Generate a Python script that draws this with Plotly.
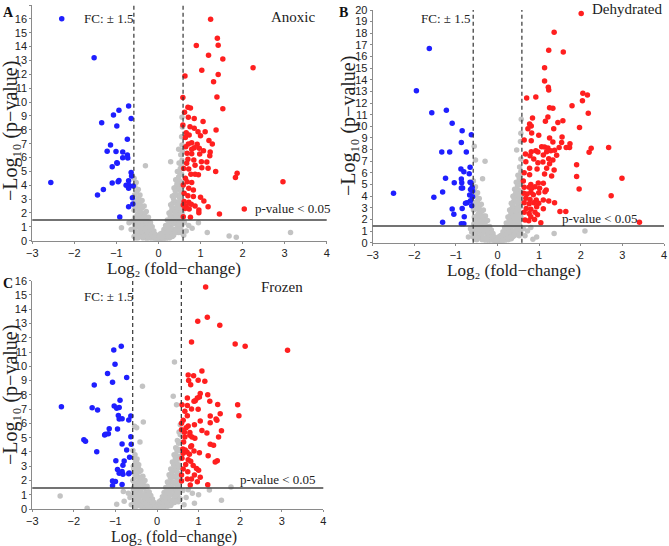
import plotly.graph_objects as go

# ---------------- Panel A (Anoxic) ----------------
a_down = [(-2.30,16.0),(-1.53,13.2),(-0.71,9.72),(-0.94,9.4),(-1.07,9.07),(-0.65,8.82),(-1.35,8.51),
          (-0.99,8.27),(-0.74,7.31),(-1.14,6.9),(-1.22,6.45),(-1.01,6.43),(-0.85,6.4),(-0.74,6.18),
          (-0.85,5.99),(-0.73,5.97),(-0.99,5.63),(-0.98,5.58),(-1.10,5.34),(-0.65,4.91),(-0.64,4.67),
          (-0.94,4.35),(-0.71,4.33),(-0.96,4.26),(-1.10,4.16),(-2.56,4.19),(-0.71,4.02),(-0.60,3.94),
          (-0.71,3.78),(-1.31,3.7),(-1.45,3.3),(-0.62,3.1),(-0.61,2.65),(-0.71,2.45),(-0.92,1.71),(-0.77,4.0)]
a_up = [(1.24,15.97),(1.40,14.6),(1.42,14.1),(0.90,14.07),(1.19,13.37),(1.53,13.1),(2.25,12.48),(1.03,12.29),
        (1.42,11.98),(0.63,11.88),(1.31,11.47),(1.39,10.37),(0.58,10.32),(1.53,9.52),(0.70,9.62),(0.76,9.57),
        (0.62,9.26),(0.71,8.9),(0.85,8.82),(1.06,8.59),(0.58,8.35),(0.75,8.22),(0.85,8.11),(1.37,7.98),
        (0.66,7.79),(0.94,7.86),(0.73,7.62),(1.00,7.57),(1.11,7.86),(0.64,7.45),(1.20,7.23),(0.79,7.07),
        (0.71,6.97),(1.28,6.97),(0.92,6.95),(0.65,6.78),(0.85,6.71),(0.97,6.66),(0.79,6.59),(1.07,6.49),
        (1.23,6.4),(0.68,6.3),(0.79,6.28),(0.98,6.25),(1.22,6.13),(0.70,5.87),(0.84,5.82),(1.02,5.7),
        (1.15,5.67),(0.67,5.58),(0.87,5.44),(1.03,5.27),(0.60,5.2),(0.72,5.17),(1.18,5.22),(1.36,5.0),
        (1.87,4.86),(1.83,4.55),(2.96,4.26),(0.77,4.79),(0.87,4.79),(0.95,4.76),(0.64,4.5),(0.68,4.26),
        (0.79,4.19),(0.59,4.02),(0.72,3.78),(0.83,3.66),(0.61,3.42),(0.70,3.25),(0.83,3.18),(1.00,3.13),
        (1.08,2.87),(0.61,2.82),(0.72,2.77),(0.59,2.58),(0.66,2.5),(0.78,2.62),(0.87,2.5),(1.18,2.45),
        (2.04,2.29),(0.63,2.33),(0.73,2.29),(0.96,2.21),(0.96,2.02),(1.45,1.93),(0.76,1.69),(0.59,1.73)]
a_ns = [(-0.58,4.5),(-0.56,3.9),(-0.57,3.3),(-0.55,2.8),(-0.58,2.2),(-0.56,1.7),(-0.57,1.2),(-0.55,0.7),(-0.58,0.3),
        (-0.53,4.2),(-0.52,3.5),(-0.51,2.9),(-0.53,2.4),(-0.50,1.9),(-0.52,1.4),(-0.51,1.0),(-0.53,0.5),
        (-0.48,3.7),(-0.47,3.1),(-0.49,2.6),(-0.46,2.1),(-0.48,1.6),(-0.47,1.1),(-0.45,0.6),(-0.49,0.2),
        (-0.44,3.3),(-0.43,2.8),(-0.42,2.3),(-0.44,1.8),(-0.41,1.3),(-0.43,0.9),(-0.42,0.4),
        (-0.39,2.9),(-0.38,2.4),(-0.37,1.9),(-0.39,1.5),(-0.36,1.0),(-0.38,0.6),(-0.37,0.2),
        (-0.34,2.5),(-0.33,2.0),(-0.32,1.6),(-0.34,1.2),(-0.31,0.8),(-0.33,0.4),(-0.31,5.4),
        (-0.29,2.1),(-0.28,1.7),(-0.27,1.3),(-0.29,0.9),(-0.26,0.5),(-0.28,0.15),
        (-0.24,1.7),(-0.23,1.3),(-0.22,0.9),(-0.24,0.5),(-0.21,0.2),
        (-0.19,1.3),(-0.18,0.9),(-0.17,0.6),(-0.19,0.3),
        (-0.15,1.0),(-0.14,0.7),(-0.13,0.4),(-0.15,0.15),
        (-0.11,0.7),(-0.10,0.45),(-0.09,0.2),(-0.07,0.45),(-0.06,0.25),(-0.05,0.08),
        (-0.03,0.25),(-0.02,0.1),(0.0,0.05),(0.01,0.15),
        (0.03,0.1),(0.04,0.25),(0.06,0.4),(0.07,0.15),(0.09,0.55),(0.10,0.3),(0.11,0.1),
        (0.13,0.8),(0.14,0.5),(0.15,0.25),(0.17,1.1),(0.18,0.8),(0.19,0.45),(0.18,0.15),
        (0.21,1.5),(0.22,1.1),(0.23,0.7),(0.21,0.35),
        (0.25,2.0),(0.26,1.5),(0.27,1.0),(0.25,0.6),(0.26,0.2),
        (0.29,2.6),(0.30,2.1),(0.31,1.6),(0.29,1.1),(0.30,0.6),(0.29,5.7),
        (0.33,3.2),(0.34,2.7),(0.35,2.2),(0.33,1.7),(0.34,1.2),(0.35,0.7),(0.33,0.3),
        (0.37,3.8),(0.38,3.3),(0.39,2.8),(0.37,2.3),(0.38,1.8),(0.39,1.3),(0.37,0.8),
        (0.41,4.4),(0.42,3.9),(0.43,3.3),(0.41,2.8),(0.42,2.3),(0.43,1.8),(0.41,1.3),(0.42,0.8),
        (0.45,5.0),(0.46,4.4),(0.47,3.8),(0.45,3.3),(0.46,2.7),(0.47,2.2),(0.45,1.7),(0.46,1.1),(0.47,0.6),
        (0.49,5.6),(0.50,4.9),(0.51,4.3),(0.49,3.7),(0.50,3.1),(0.51,2.5),(0.49,2.0),(0.50,1.4),(0.51,0.9),
        (0.53,6.2),(0.54,5.5),(0.55,4.8),(0.53,4.1),(0.54,3.5),(0.55,2.9),(0.53,2.3),(0.54,1.7),(0.55,1.1),
        (0.56,6.9),(0.57,6.5),(0.48,6.6),(0.56,8.9),(0.57,8.2),(0.55,7.5),
        (-0.57,0.9),(-0.54,1.6),(-0.50,1.2),(-0.46,0.3),(-0.45,1.4),(-0.40,0.9),(-0.40,2.0),(-0.35,1.7),
        (-0.35,0.3),(-0.30,1.4),(-0.31,0.35),(-0.26,1.0),(-0.25,0.3),(-0.21,0.6),(-0.20,1.1),(-0.16,0.45),
        (-0.12,0.3),(-0.08,0.35),(-0.04,0.15),(0.02,0.3),(0.05,0.5),(0.08,0.3),(0.12,0.45),(0.12,0.2),
        (0.16,0.6),(0.16,0.35),(0.20,1.0),(0.20,0.6),(0.24,1.2),(0.24,0.35),(0.28,1.8),(0.28,0.8),
        (0.32,2.4),(0.32,1.4),(0.32,0.5),(0.36,3.0),(0.36,1.5),(0.36,0.4),(0.40,3.6),(0.40,2.0),(0.40,0.6),
        (0.44,4.1),(0.44,2.5),(0.44,0.9),(0.48,4.6),(0.48,2.8),(0.48,1.2),(0.52,5.2),(0.52,3.3),(0.52,1.5),
        (0.52,0.6),(0.56,5.8),(0.56,3.9),(0.56,2.0),(0.56,0.7),(-0.56,2.5),(-0.54,0.2),(-0.48,2.9),(-0.44,2.5),
        (-0.88,0.94),(-0.70,1.3),(-0.65,0.8),(-0.62,1.4),(0.62,1.3),(0.66,0.7),(0.72,1.1),(0.80,0.9),
        (0.95,1.3),(1.16,0.6),(1.68,0.34),(1.85,0.24),(3.14,0.6),(0.60,0.4)]

# ---------------- Panel B (Dehydrated) ----------------
b_down = [(-1.64,16.7),(-1.95,13.07),(-1.58,11.17),(-1.23,11.38),(-1.09,10.26),(-0.85,9.63),(-0.63,9.28),
          (-0.87,8.62),(-1.34,7.79),(-1.15,7.79),(-0.75,7.79),(-0.66,6.48),(-0.88,6.33),(-0.81,6.1),
          (-0.68,5.93),(-1.25,5.53),(-1.04,5.16),(-0.87,5.47),(-0.86,5.16),(-0.66,5.19),(-0.64,5.16),
          (-0.61,4.76),(-0.87,4.7),(-0.84,4.7),(-0.65,4.58),(-0.60,4.45),(-1.32,4.36),(-2.50,4.24),
          (-0.67,4.1),(-0.60,3.95),(-1.53,3.9),(-0.65,3.61),(-0.73,3.44),(-0.77,3.38),(-0.62,3.18),
          (-0.85,2.95),(-1.09,2.89),(-1.05,2.44),(-0.80,2.23),(-1.32,1.75),(-0.87,1.63),(-0.81,1.63)]
b_up = [(2.01,19.7),(1.36,18.08),(1.23,16.53),(1.58,16.39),(1.13,15.04),(1.13,13.9),(1.22,13.35),(1.23,13.12),
        (2.05,12.84),(2.16,12.69),(0.92,12.52),(0.70,12.44),(2.04,12.21),(1.79,11.78),(1.25,11.6),(1.33,11.55),
        (2.18,11.12),(0.84,10.72),(1.21,10.8),(1.15,10.43),(1.57,10.49),(1.45,10.34),(0.77,10.2),(0.81,10.03),
        (0.73,9.8),(1.35,9.8),(1.97,9.91),(0.82,9.43),(0.99,9.23),(1.55,9.08),(1.25,9.0),(0.64,8.83),
        (0.81,8.77),(1.33,8.65),(1.54,8.62),(1.74,8.51),(1.48,8.19),(1.06,8.25),(1.13,8.22),(1.21,8.14),
        (1.65,8.19),(1.73,8.19),(2.67,8.19),(2.25,8.11),(0.92,7.91),(0.97,7.79),(0.81,7.82),(1.18,7.82),
        (1.28,7.91),(1.37,7.94),(2.20,7.77),(0.67,7.62),(0.78,7.48),(1.10,7.54),(1.42,7.51),(1.23,7.22),
        (0.87,7.19),(1.33,7.11),(0.68,6.96),(0.97,6.88),(1.09,6.93),(1.25,6.79),(1.90,6.7),(0.77,6.39),
        (0.95,6.33),(1.18,6.39),(1.36,6.25),(0.64,6.02),(0.77,5.85),(1.13,5.9),(1.30,5.73),(1.90,5.7),
        (2.99,5.53),(1.10,5.1),(0.62,5.3),(0.80,5.01),(0.98,5.13),(0.64,4.76),(0.76,4.76),(0.82,4.67),
        (0.90,4.81),(1.01,4.67),(1.17,4.53),(1.96,4.61),(0.63,4.24),(0.71,4.18),(0.80,4.33),(0.86,4.13),
        (0.99,4.3),(1.14,4.38),(0.68,3.81),(0.78,3.72),(0.93,3.67),(1.10,3.67),(1.23,3.58),(2.73,4.04),
        (0.64,3.44),(0.76,3.35),(0.87,3.44),(0.99,3.38),(1.37,3.44),(0.69,2.95),(0.80,2.87),(0.94,3.09),
        (1.10,2.92),(0.64,2.61),(0.76,2.52),(0.90,2.61),(1.50,2.69),(1.64,2.69),(0.80,2.23),(0.96,2.41),
        (0.66,1.95),(0.75,1.89),(0.89,2.0),(1.04,1.72),(3.41,1.75)]
b_ns = [(-0.58,5.3),(-0.56,4.6),(-0.57,4.0),(-0.55,3.4),(-0.58,2.8),(-0.56,2.2),(-0.57,1.6),(-0.55,1.0),(-0.58,0.5),
        (-0.56,8.3),(-0.53,7.1),
        (-0.53,4.8),(-0.52,4.1),(-0.51,3.5),(-0.53,2.9),(-0.50,2.3),(-0.52,1.8),(-0.51,1.2),(-0.53,0.7),(-0.50,0.25),
        (-0.48,4.3),(-0.47,3.7),(-0.49,3.1),(-0.46,2.5),(-0.48,2.0),(-0.47,1.4),(-0.45,0.9),(-0.49,0.4),
        (-0.44,3.8),(-0.43,3.2),(-0.42,2.6),(-0.44,2.1),(-0.41,1.5),(-0.43,1.0),(-0.42,0.5),
        (-0.39,3.3),(-0.38,2.7),(-0.37,2.2),(-0.39,1.7),(-0.36,1.2),(-0.38,0.7),(-0.37,0.25),
        (-0.34,2.8),(-0.33,2.3),(-0.32,1.8),(-0.34,1.3),(-0.31,0.9),(-0.33,0.4),(-0.30,7.0),(-0.36,5.5),
        (-0.29,2.3),(-0.28,1.9),(-0.27,1.4),(-0.29,1.0),(-0.26,0.5),(-0.28,0.15),
        (-0.24,1.9),(-0.23,1.4),(-0.22,1.0),(-0.24,0.6),(-0.21,0.2),
        (-0.19,1.4),(-0.18,1.0),(-0.17,0.6),(-0.19,0.3),
        (-0.15,1.1),(-0.14,0.7),(-0.13,0.4),(-0.15,0.12),
        (-0.11,0.8),(-0.10,0.5),(-0.09,0.2),(-0.07,0.5),(-0.06,0.25),(-0.05,0.08),
        (-0.03,0.3),(-0.02,0.1),(0.0,0.05),(0.01,0.18),
        (0.03,0.12),(0.04,0.3),(0.06,0.45),(0.07,0.18),(0.09,0.65),(0.10,0.35),(0.11,0.12),
        (0.13,0.95),(0.14,0.6),(0.15,0.3),(0.17,1.3),(0.18,0.9),(0.19,0.5),(0.18,0.18),
        (0.21,1.7),(0.22,1.3),(0.23,0.8),(0.21,0.4),
        (0.25,2.2),(0.26,1.7),(0.27,1.2),(0.25,0.7),(0.26,0.25),
        (0.29,2.8),(0.30,2.3),(0.31,1.8),(0.29,1.3),(0.30,0.7),
        (0.33,3.4),(0.34,2.9),(0.35,2.4),(0.33,1.9),(0.34,1.4),(0.35,0.9),(0.33,0.35),
        (0.37,4.0),(0.38,3.5),(0.39,3.0),(0.37,2.5),(0.38,2.0),(0.39,1.5),(0.37,1.0),
        (0.41,4.6),(0.42,4.1),(0.43,3.5),(0.41,3.0),(0.42,2.5),(0.43,2.0),(0.41,1.5),(0.42,1.0),
        (0.45,5.2),(0.46,4.6),(0.47,4.0),(0.45,3.5),(0.46,2.9),(0.47,2.4),(0.45,1.9),(0.46,1.3),(0.47,0.7),
        (0.49,5.8),(0.50,5.1),(0.51,4.5),(0.49,3.9),(0.50,3.3),(0.51,2.7),(0.49,2.2),(0.50,1.6),(0.51,1.0),
        (0.53,6.5),(0.54,5.8),(0.55,5.0),(0.53,4.3),(0.54,3.7),(0.55,3.1),(0.53,2.5),(0.54,1.9),(0.55,1.2),
        (0.56,7.2),(0.46,7.97),(0.57,10.6),(0.55,8.7),(0.56,9.4),
        (-0.57,1.3),(-0.54,2.0),(-0.50,1.5),(-0.46,0.4),(-0.45,1.7),(-0.40,1.1),(-0.40,2.3),(-0.35,2.0),
        (-0.35,0.4),(-0.30,1.6),(-0.31,0.3),(-0.26,1.2),(-0.25,0.3),(-0.21,0.7),(-0.20,1.3),(-0.16,0.5),
        (-0.12,0.35),(-0.08,0.4),(-0.04,0.18),(0.02,0.35),(0.05,0.55),(0.08,0.3),(0.12,0.5),(0.12,0.22),
        (0.16,0.7),(0.16,0.4),(0.20,1.1),(0.20,0.65),(0.24,1.4),(0.24,0.4),(0.28,2.0),(0.28,0.9),
        (0.32,2.6),(0.32,1.6),(0.32,0.5),(0.36,3.2),(0.36,1.7),(0.36,0.5),(0.40,3.8),(0.40,2.2),(0.40,0.6),
        (0.44,4.3),(0.44,2.7),(0.44,1.0),(0.48,4.9),(0.48,3.0),(0.48,1.3),(0.52,5.5),(0.52,3.5),(0.52,1.6),
        (0.52,0.6),(0.56,6.1),(0.56,4.1),(0.56,2.2),(0.56,0.8),(-0.56,3.0),(-0.54,0.3),(-0.48,3.4),(-0.44,2.9),
        (-0.62,0.9),(-0.70,0.5),(-0.65,1.2),(0.62,1.2),(0.66,0.6),(0.72,1.0),(0.80,1.3),(0.94,0.5),
        (1.36,0.8),(2.10,1.0),(0.85,0.3)]

# ---------------- Panel C (Frozen) ----------------
c_down = [(-0.86,11.41),(-1.04,11.14),(-1.01,10.14),(-1.19,9.49),(-0.73,9.21),(-1.07,8.89),(-1.51,8.69),
          (-0.89,7.62),(-2.30,7.17),(-1.03,7.21),(-1.56,7.1),(-0.97,7.06),(-0.91,7.12),(-1.43,6.94),
          (-0.93,6.56),(-0.84,6.33),(-0.91,6.31),(-0.68,6.24),(-0.63,6.51),(-0.95,5.6),(-1.15,5.63),
          (-1.17,5.27),(-1.26,5.18),(-1.24,5.24),(-1.76,4.86),(-1.72,4.74),(-0.63,5.06),(-0.84,4.56),
          (-0.62,4.54),(-0.73,4.13),(-1.45,4.02),(-0.66,3.63),(-0.79,3.36),(-0.99,3.38),(-0.82,3.06),
          (-0.95,2.77),(-0.84,2.63),(-0.67,2.52),(-0.82,2.43),(-0.68,2.47),(-0.91,2.5),(-1.07,1.97),
          (-1.00,1.93),(-0.84,1.72),(-1.07,1.63)]
c_up = [(1.17,15.55),(1.21,13.43),(0.98,13.16),(1.51,12.87),(0.83,11.71),(1.88,11.57),(2.12,11.41),(3.14,11.12),
        (1.08,9.67),(0.75,9.39),(0.88,9.33),(0.76,9.01),(0.99,9.03),(1.15,8.96),(0.81,8.71),(1.04,8.1),
        (0.97,7.78),(0.73,7.78),(0.92,7.58),(1.02,7.85),(1.22,8.01),(1.27,7.56),(0.60,7.31),(0.73,7.26),
        (0.89,7.56),(1.94,7.31),(1.46,7.33),(0.83,7.01),(0.99,6.99),(0.67,6.85),(0.73,6.53),(1.97,6.53),
        (1.28,6.51),(1.52,6.67),(1.04,6.17),(1.42,6.31),(1.44,6.22),(0.63,6.22),(0.59,6.01),(1.28,6.04),
        (0.90,5.9),(0.75,5.81),(0.70,5.7),(0.59,5.56),(1.08,5.51),(1.55,5.49),(1.20,5.33),(0.66,5.38),
        (0.79,5.36),(0.79,5.17),(1.48,5.04),(0.84,5.04),(0.91,4.95),(0.67,5.04),(0.64,4.7),(0.83,4.43),
        (1.28,4.54),(1.36,4.47),(0.81,4.36),(0.62,4.2),(0.68,4.13),(0.72,4.0),(0.89,4.06),(1.02,3.95),
        (0.63,3.9),(0.78,3.83),(1.23,3.74),(0.60,3.56),(0.75,3.45),(0.81,3.34),(1.45,3.38),(1.40,3.29),
        (0.69,3.11),(0.87,3.04),(0.63,2.81),(0.95,2.84),(1.00,2.72),(0.74,2.61),(0.90,2.38),(0.59,2.38),
        (0.59,1.97),(1.04,2.22),(0.73,2.11),(0.83,2.11),(0.97,1.91),(1.22,1.7),(0.80,1.68)]
c_ns = [(-0.58,4.1),(-0.56,3.6),(-0.57,3.0),(-0.55,2.5),(-0.58,2.0),(-0.56,1.5),(-0.57,1.0),(-0.55,0.5),
        (-0.54,5.8),(-0.49,5.7),
        (-0.53,3.8),(-0.52,3.3),(-0.51,2.7),(-0.53,2.2),(-0.50,1.7),(-0.52,1.2),(-0.51,0.8),(-0.53,0.3),
        (-0.48,3.5),(-0.47,3.0),(-0.49,2.4),(-0.46,1.9),(-0.48,1.4),(-0.47,1.0),(-0.45,0.6),(-0.49,0.2),
        (-0.44,3.1),(-0.43,2.6),(-0.42,2.1),(-0.44,1.6),(-0.41,1.2),(-0.43,0.8),(-0.42,0.35),(-0.41,4.7),
        (-0.39,2.7),(-0.38,2.2),(-0.37,1.8),(-0.39,1.3),(-0.36,0.9),(-0.38,0.5),(-0.37,0.15),
        (-0.34,2.3),(-0.33,1.9),(-0.32,1.5),(-0.34,1.0),(-0.31,0.6),(-0.33,0.25),(-0.35,8.6),(-0.33,6.1),
        (-0.29,2.0),(-0.28,1.6),(-0.27,1.2),(-0.29,0.8),(-0.26,0.4),(-0.28,0.1),
        (-0.24,1.6),(-0.23,1.2),(-0.22,0.8),(-0.24,0.45),(-0.21,0.15),
        (-0.19,1.2),(-0.18,0.85),(-0.17,0.5),(-0.19,0.2),
        (-0.15,0.95),(-0.14,0.6),(-0.13,0.3),(-0.15,0.1),
        (-0.11,0.7),(-0.10,0.4),(-0.09,0.15),(-0.07,0.45),(-0.06,0.2),(-0.05,0.06),
        (-0.03,0.25),(-0.02,0.1),(0.0,0.04),(0.01,0.15),
        (0.03,0.1),(0.04,0.25),(0.06,0.4),(0.07,0.15),(0.09,0.6),(0.10,0.3),(0.11,0.1),
        (0.13,0.85),(0.14,0.55),(0.15,0.25),(0.17,1.15),(0.18,0.8),(0.19,0.45),(0.18,0.15),
        (0.21,1.5),(0.22,1.1),(0.23,0.7),(0.21,0.35),
        (0.25,1.9),(0.26,1.5),(0.27,1.0),(0.25,0.6),(0.26,0.2),
        (0.29,2.4),(0.30,1.9),(0.31,1.4),(0.29,1.0),(0.30,0.5),
        (0.33,2.8),(0.34,2.4),(0.35,1.9),(0.33,1.5),(0.34,1.0),(0.35,0.6),(0.33,0.25),
        (0.37,3.3),(0.38,2.8),(0.39,2.3),(0.37,1.9),(0.38,1.4),(0.39,1.0),(0.37,0.6),
        (0.41,3.8),(0.42,3.3),(0.43,2.8),(0.41,2.3),(0.42,1.8),(0.43,1.3),(0.41,0.9),(0.42,0.45),
        (0.45,4.3),(0.46,3.8),(0.47,3.2),(0.45,2.7),(0.46,2.2),(0.47,1.7),(0.45,1.2),(0.46,0.8),
        (0.49,4.8),(0.50,4.2),(0.51,3.6),(0.49,3.0),(0.50,2.5),(0.51,2.0),(0.49,1.5),(0.50,1.0),(0.51,0.5),
        (0.53,5.4),(0.54,4.7),(0.55,4.1),(0.53,3.5),(0.54,2.9),(0.55,2.3),(0.53,1.8),(0.54,1.2),(0.55,0.7),
        (0.56,5.9),(0.42,10.3),(0.39,7.9),(0.47,7.3),
        (-0.57,1.3),(-0.54,1.8),(-0.50,1.4),(-0.46,0.4),(-0.45,1.6),(-0.40,1.0),(-0.40,2.2),(-0.35,1.8),
        (-0.35,0.35),(-0.30,1.5),(-0.31,0.3),(-0.26,1.1),(-0.25,0.3),(-0.21,0.65),(-0.20,1.2),(-0.16,0.45),
        (-0.12,0.3),(-0.08,0.35),(-0.04,0.15),(0.02,0.3),(0.05,0.5),(0.08,0.3),(0.12,0.45),(0.12,0.2),
        (0.16,0.6),(0.16,0.35),(0.20,0.95),(0.20,0.55),(0.24,1.2),(0.24,0.35),(0.28,1.7),(0.28,0.8),
        (0.32,2.2),(0.32,1.3),(0.32,0.45),(0.36,2.6),(0.36,1.5),(0.36,0.4),(0.40,3.1),(0.40,1.9),(0.40,0.6),
        (0.44,3.6),(0.44,2.3),(0.44,0.9),(0.48,4.1),(0.48,2.6),(0.48,1.2),(0.52,4.6),(0.52,3.1),(0.52,1.5),
        (0.52,0.6),(0.56,5.2),(0.56,3.7),(0.56,2.0),(0.56,0.7),(-0.56,2.8),(-0.54,0.2),(-0.48,3.2),(-0.44,2.8),
        (-2.33,0.91),(-1.68,0.05),(-0.97,0.34),(-0.79,0.54),(-0.69,1.1),(-0.81,1.23),(-0.62,0.3),(-0.65,0.8),
        (0.62,1.3),(0.70,0.8),(0.85,1.1),(1.00,1.0),(0.90,0.4),(1.26,1.34),(1.55,0.61),(1.78,1.55),
        (0.65,0.3),(0.75,1.35)]

panel_names = ["Anoxic", "Dehydrated", "Frozen"]
panel_letters = ["A", "B", "C"]
y_max = [17, 20, 16]
p_cut = [1.5, 1.44, 1.48]
fc_cut = 0.585
x_ticks = [-3, -2, -1, 0, 1, 2, 3, 4]

GRAY = "#c3c3c3"
BLUE = "#1f1fff"
RED = "#ff1f1f"

fig = go.Figure()
panels = [(a_ns, a_down, a_up), (b_ns, b_down, b_up), (c_ns, c_down, c_up)]
for i, (ns, dn, up) in enumerate(panels):
    sfx = "" if i == 0 else str(i + 1)
    for pts, col in ((ns, GRAY), (dn, BLUE), (up, RED)):
        fig.add_trace(go.Scatter(
            x=[p[0] for p in pts], y=[p[1] for p in pts], mode="markers",
            marker=dict(size=5.5, color=col, line=dict(width=0)),
            xaxis="x" + sfx, yaxis="y" + sfx, showlegend=False, hoverinfo="skip"))

W, H = 669, 546
# pixel boxes of the plot areas: (left, right, top, bottom)
boxes = [(32.3, 326.7, 5.0, 240.7), (372.7, 664.0, 10.0, 242.7), (32.3, 323.3, 280.7, 509.0)]

axfont = dict(family="Liberation Sans, Arial, sans-serif", size=11, color="#222")
layout = dict(width=W, height=H, margin=dict(l=0, r=0, t=0, b=0, autoexpand=False),
              plot_bgcolor="white", paper_bgcolor="white", showlegend=False)
for i, (l, r, t, b) in enumerate(boxes):
    sfx = "" if i == 0 else str(i + 1)
    common = dict(showline=True, linecolor="#8a8a8a", linewidth=1, ticks="outside", ticklen=2,
                  tickcolor="#8a8a8a", showgrid=False, zeroline=False, tickfont=axfont,
                  automargin=False)
    layout["xaxis" + sfx] = dict(domain=[l / W, r / W], anchor="y" + sfx, range=[-3, 4],
                                 tickvals=x_ticks, **common)
    layout["yaxis" + sfx] = dict(domain=[1 - b / H, 1 - t / H], anchor="x" + sfx, range=[0, y_max[i]],
                                 dtick=1, **common)
fig.update_layout(**layout)

# threshold lines
for i in range(3):
    sfx = "" if i == 0 else str(i + 1)
    xr, yr = "x" + sfx, "y" + sfx
    for xv in (-fc_cut, fc_cut):
        fig.add_shape(type="line", xref=xr, yref=yr + " domain", x0=xv, x1=xv, y0=0, y1=1,
                      line=dict(color="#333", width=1.2, dash="4px,3px"))
    fig.add_shape(type="line", xref=xr + " domain", yref=yr, x0=0, x1=1, y0=p_cut[i], y1=p_cut[i],
                  line=dict(color="#444", width=1.5))

serif = "Liberation Serif, Times New Roman, serif"
def ann(text, px, py, size, bold=False, angle=0, color="#222"):
    if bold:
        text = "<b>" + text + "</b>"
    fig.add_annotation(text=text, x=px / W, y=1 - py / H, xref="paper", yref="paper",
                       showarrow=False, textangle=angle, xanchor="center", yanchor="middle",
                       font=dict(family=serif, size=size, color=color))

xtitle = "Log\u2082 (fold\u2212change)"
ytitle = "\u2212Log\u2081\u2080 (p\u2212value)"
ysize = 20
# panel A
ann(panel_letters[0], 8, 12, 14, bold=True, color="#111")
ann(panel_names[0], 293, 17, 15)
ann("FC: \u00b1 1.5", 109, 19, 13)
ann("p-value &lt; 0.05", 293, 209, 13)
ann(xtitle, 174, 268, 17)
ann(ytitle, 10, 131, ysize, angle=-90)
# panel B
ann(panel_letters[1], 343, 12, 14, bold=True, color="#111")
ann(panel_names[1], 627, 9, 15)
ann("FC: \u00b1 1.5", 445, 19, 13)
ann("p-value &lt; 0.05", 600, 218, 13)
ann(xtitle, 514, 270, 17)
ann(ytitle, 348, 126, ysize, angle=-90)
# panel C
ann(panel_letters[2], 8, 283, 14, bold=True, color="#111")
ann(panel_names[2], 282, 287, 15)
ann("FC: \u00b1 1.5", 108, 296, 13)
ann("p-value &lt; 0.05", 278, 479, 13)
ann(xtitle, 174, 537, 16)
ann(ytitle, 10, 395, ysize, angle=-90)

fig.write_html("out.html", config={"displayModeBar": False},
               post_script="document.body.style.margin='0';")
